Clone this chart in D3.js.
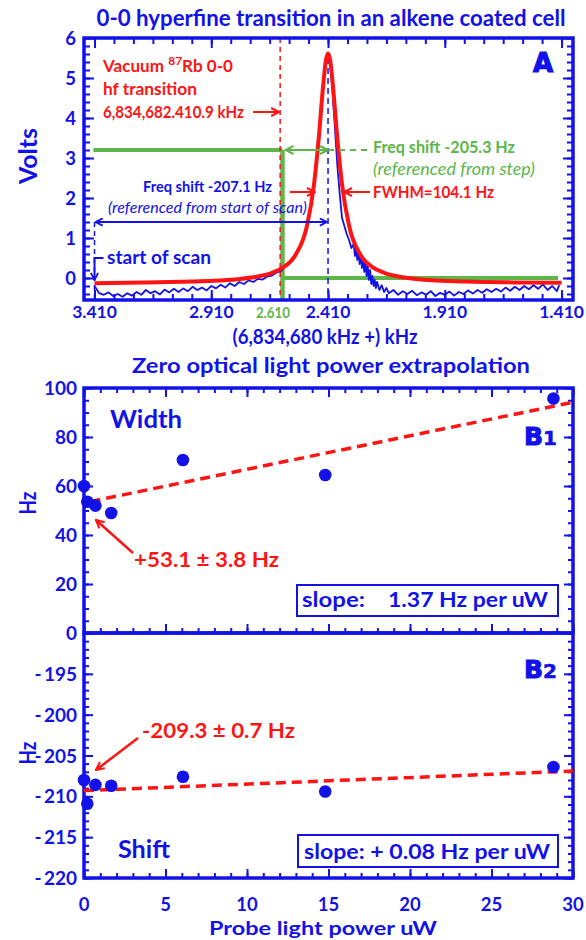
<!DOCTYPE html>
<html><head><meta charset="utf-8">
<script src="https://cdn.jsdelivr.net/npm/d3@7"></script>
<style>body{margin:0;background:#fff}svg{display:block}</style>
</head><body><svg id="c" width="586" height="940"></svg>
<script>
// ---------- DATA ----------
// Panel A: fitted Lorentzian (red), kHz offset vs Volts
const fitCurve = [[3.41,-0.13],[3.2,-0.11],[3.0,-0.09],[2.9,-0.07],[2.8,-0.03],[2.7,0.05],[2.65,0.13],[2.6,0.27],[2.55,0.57],[2.5,1.31],[2.47,2.34],[2.45,3.48],[2.43,4.87],[2.42,5.41],[2.41,5.62],[2.40,5.41],[2.39,4.87],[2.37,3.48],[2.35,2.34],[2.32,1.31],[2.27,0.57],[2.22,0.27],[2.17,0.13],[2.12,0.05],[2.02,-0.03],[1.92,-0.07],[1.82,-0.09],[1.62,-0.11],[1.41,-0.12]];
// Panel A: measured signal (blue)
const signal = [[3.41,-0.20],[3.39,-0.38],[3.37,-0.42],[3.35,-0.36],[3.33,-0.45],[3.31,-0.40],[3.29,-0.47],[3.27,-0.38],[3.25,-0.44],[3.23,-0.35],[3.21,-0.42],[3.19,-0.30],[3.17,-0.38],[3.15,-0.33],[3.13,-0.41],[3.11,-0.29],[3.09,-0.36],[3.07,-0.27],[3.05,-0.35],[3.03,-0.26],[3.01,-0.33],[2.99,-0.22],[2.97,-0.30],[2.95,-0.24],[2.93,-0.31],[2.91,-0.20],[2.89,-0.26],[2.87,-0.17],[2.85,-0.24],[2.83,-0.13],[2.81,-0.20],[2.79,-0.10],[2.77,-0.15],[2.75,-0.06],[2.73,-0.10],[2.71,-0.02],[2.69,-0.04],[2.67,0.04],[2.65,0.06],[2.63,0.14],[2.61,0.18],[2.59,0.32],[2.57,0.40],[2.55,0.58],[2.53,0.78],[2.51,1.10],[2.49,1.55],[2.47,2.30],[2.45,3.40],[2.44,4.10],[2.43,4.80],[2.42,5.35],[2.41,5.55],[2.40,5.30],[2.39,4.60],[2.38,3.70],[2.37,2.80],[2.36,2.10],[2.35,1.50],[2.34,1.30],[2.33,1.10],[2.32,0.95],[2.31,0.75],[2.30,0.85],[2.295,0.55],[2.29,0.80],[2.285,0.45],[2.28,0.70],[2.275,0.35],[2.27,0.60],[2.265,0.25],[2.26,0.50],[2.255,0.15],[2.25,0.40],[2.245,0.05],[2.24,0.30],[2.235,-0.05],[2.23,0.20],[2.225,-0.15],[2.22,0.05],[2.215,-0.20],[2.21,-0.05],[2.205,-0.25],[2.20,-0.10],[2.19,-0.30],[2.18,-0.18],[2.17,-0.35],[2.16,-0.25],[2.15,-0.38],[2.13,-0.30],[2.11,-0.42],[2.09,-0.33],[2.07,-0.40],[2.05,-0.32],[2.03,-0.43],[2.01,-0.36],[1.99,-0.42],[1.97,-0.33],[1.95,-0.45],[1.93,-0.37],[1.91,-0.42],[1.89,-0.34],[1.87,-0.44],[1.85,-0.35],[1.83,-0.40],[1.81,-0.31],[1.79,-0.39],[1.77,-0.30],[1.75,-0.37],[1.73,-0.28],[1.71,-0.35],[1.69,-0.27],[1.67,-0.34],[1.65,-0.24],[1.63,-0.32],[1.61,-0.22],[1.59,-0.30],[1.57,-0.20],[1.55,-0.28],[1.53,-0.18],[1.51,-0.27],[1.49,-0.16],[1.47,-0.30],[1.45,-0.20],[1.43,-0.33],[1.42,-0.18]];
const aXTicks = [3.41, 2.91, 2.41, 1.91, 1.41];
const aXTickLabels = ["3.410", "2.910", "2.410", "1.910", "1.410"];
const aYTicks = [0, 1, 2, 3, 4, 5, 6];
const peakKHz = 2.41, vacuumKHz = 2.615, stepKHz = 2.605, scanStartKHz = 3.41;
const stepHighV = 3.2, stepLowV = 0;

// Panel B1 (width) and B2 (shift) vs probe power
const powerUW   = [0, 0.2, 0.7, 1.67, 6.07, 14.8, 28.8];
const widthHz   = [60.0, 53.6, 52.0, 49.0, 70.6, 64.5, 95.7];
const shiftHz   = [-208.0, -210.9, -208.6, -208.7, -207.6, -209.4, -206.4];
const widthFit  = {intercept: 53.1, slope: 1.37};
const shiftFit  = {intercept: -209.3, slope: 0.08};
const bXTicks   = [0, 5, 10, 15, 20, 25, 30];
const b1YTicks  = [0, 20, 40, 60, 80, 100];
const b2YTicks  = [-220, -215, -210, -205, -200, -195];

// ---------- STYLE ----------
const BLUE = "#1212e8", RED = "#ff1414", GREEN = "#5cb64a";
const FONT = "Lato, 'Open Sans', sans-serif";
const svg = d3.select("#c");

function fitLen(t, w){ t.attr("textLength", w).attr("lengthAdjust", "spacingAndGlyphs"); return t; }
function txt(x, y, s, o = {}){
  const t = svg.append("text").attr("x", x).attr("y", y)
    .attr("fill", o.fill || BLUE).attr("font-size", o.size || 18)
    .attr("font-weight", o.weight || "bold").attr("font-family", o.family || FONT)
    .attr("text-anchor", o.anchor || "start").text(s);
  if (o.italic) t.attr("font-style", "italic");
  if (o.w) fitLen(t, o.w);
  return t;
}
function vtxt(cx, cy, s, size, w){
  const t = svg.append("text").attr("transform", `translate(${cx},${cy}) rotate(-90)`)
    .attr("text-anchor", "middle").attr("dominant-baseline", "central")
    .attr("fill", BLUE).attr("font-size", size).attr("font-weight", "bold").attr("font-family", FONT).text(s);
  if (w) fitLen(t, w);
  return t;
}
function ticks(scale, orient, pos, values, len){
  const axis = {bottom: d3.axisBottom, top: d3.axisTop, left: d3.axisLeft, right: d3.axisRight}[orient](scale)
    .tickValues(values).tickSize(-len).tickFormat("");
  const tr = (orient === "bottom" || orient === "top") ? `translate(0,${pos})` : `translate(${pos},0)`;
  const g = svg.append("g").attr("transform", tr).call(axis);
  g.select(".domain").remove();
  g.selectAll("line").attr("stroke", BLUE).attr("stroke-width", 2);
}
function frame(x, y){
  const [x0, x1] = x.range(), [y0, y1] = y.range();
  svg.append("rect").attr("x", Math.min(x0,x1)).attr("y", Math.min(y0,y1))
    .attr("width", Math.abs(x1-x0)).attr("height", Math.abs(y1-y0))
    .attr("fill", "none").attr("stroke", BLUE).attr("stroke-width", 3.5);
}
// arrow markers
const defs = svg.append("defs");
function marker(id, color, size){
  defs.append("marker").attr("id", id).attr("viewBox", "0 0 10 10").attr("refX", 9).attr("refY", 5)
    .attr("markerWidth", size).attr("markerHeight", size).attr("markerUnits", "userSpaceOnUse")
    .attr("orient", "auto-start-reverse")
    .append("path").attr("d", "M1,1 L9,5 L1,9").attr("fill", "none").attr("stroke", color).attr("stroke-width", 2);
}
marker("aRed", RED, 10); marker("aBlue", BLUE, 9); marker("aGreen", GREEN, 10);

// ---------- PANEL A ----------
const xA = d3.scaleLinear().domain([3.455, 1.361]).range([84, 573]);
const yA = d3.scaleLinear().domain([-0.55, 6]).range([300, 38]);

txt(331, 26, "0-0 hyperfine transition in an alkene coated cell", {anchor: "middle", size: 22.5, w: 469});
vtxt(27, 156, "Volts", 24, 56);

// ticks
const aXMinor = d3.range(0, 25).map(k => 3.41 - k * 0.5 / 6);
ticks(xA, "bottom", 300, aXMinor, 6); ticks(xA, "bottom", 300, aXTicks, 10);
ticks(xA, "top", 38, aXMinor, 6); ticks(xA, "top", 38, aXTicks, 10);
const aYMinor = d3.range(-2, 31).map(k => k * 0.2);
ticks(yA, "left", 84, aYMinor, 6); ticks(yA, "left", 84, aYTicks, 10);
ticks(yA, "right", 573, aYMinor, 6); ticks(yA, "right", 573, aYTicks, 10);

svg.append("g").selectAll("text").data(aYTicks).join("text")
  .attr("x", 76).attr("y", d => yA(d) + 6.5).attr("text-anchor", "end")
  .attr("fill", BLUE).attr("font-size", 18.5).attr("font-weight", "bold").attr("font-family", FONT).text(d => d);
svg.append("g").selectAll("text").data(aXTicks).join("text")
  .attr("x", d => xA(d)).attr("y", 318).attr("text-anchor", "middle")
  .attr("fill", BLUE).attr("font-size", 17.5).attr("font-weight", "bold").attr("font-family", FONT).text((d, i) => aXTickLabels[i]);
txt(273, 318, "2.610", {fill: GREEN, size: 14.5, anchor: "middle", w: 34});
txt(325, 344, "(6,834,680 kHz +) kHz", {anchor: "middle", size: 20.5, w: 185});

// green step
svg.append("path").attr("d", d3.line()([[xA(3.415), yA(stepHighV)], [xA(stepKHz), yA(stepHighV)]]))
  .attr("stroke", GREEN).attr("stroke-width", 4).attr("fill", "none");
svg.append("path").attr("d", d3.line()([[xA(stepKHz), yA(stepHighV)], [xA(stepKHz), yA(-0.55)]]))
  .attr("stroke", GREEN).attr("stroke-width", 4.5).attr("fill", "none");
svg.append("path").attr("d", d3.line()([[xA(stepKHz), yA(stepLowV)], [xA(1.425), yA(stepLowV)]]))
  .attr("stroke", GREEN).attr("stroke-width", 4).attr("fill", "none");

// dashed vertical references
svg.append("line").attr("x1", xA(vacuumKHz)).attr("x2", xA(vacuumKHz)).attr("y1", yA(6)).attr("y2", yA(-0.55))
  .attr("stroke", RED).attr("stroke-width", 1.5).attr("stroke-dasharray", "5,4");
svg.append("line").attr("x1", xA(peakKHz)).attr("x2", xA(peakKHz)).attr("y1", yA(5.5)).attr("y2", yA(-0.55))
  .attr("stroke", BLUE).attr("stroke-width", 1.5).attr("stroke-dasharray", "6,4");
svg.append("line").attr("x1", xA(scanStartKHz)).attr("x2", xA(scanStartKHz)).attr("y1", yA(1.4)).attr("y2", yA(-0.55))
  .attr("stroke", BLUE).attr("stroke-width", 1.5).attr("stroke-dasharray", "5,4");

// signal + fit
const lineA = d3.line().x(d => xA(d[0])).y(d => yA(d[1]));
svg.append("path").attr("d", lineA(signal)).attr("fill", "none").attr("stroke", BLUE).attr("stroke-width", 1.8).attr("stroke-linejoin", "round");
svg.append("path").attr("d", lineA.curve(d3.curveMonotoneX)(fitCurve)).attr("fill", "none").attr("stroke", RED).attr("stroke-width", 4).attr("stroke-linejoin", "round");

// annotations A
const vac = txt(103, 72, "Vacuum ", {fill: RED, size: 17});
vac.append("tspan").attr("dy", -7).attr("font-size", 12).text("87");
vac.append("tspan").attr("dy", 7).text("Rb 0-0");
fitLen(vac, 130);
txt(103, 95, "hf transition", {fill: RED, size: 17.5, w: 94});
txt(103, 118, "6,834,682.410.9 kHz", {fill: RED, size: 17, w: 141});
svg.append("line").attr("x1", 253).attr("x2", xA(vacuumKHz) - 1).attr("y1", yA(4.15)).attr("y2", yA(4.15))
  .attr("stroke", RED).attr("stroke-width", 2).attr("marker-end", "url(#aRed)");

// green arrow
svg.append("line").attr("x1", xA(peakKHz)).attr("x2", xA(stepKHz) + 3).attr("y1", yA(stepHighV)).attr("y2", yA(stepHighV))
  .attr("stroke", GREEN).attr("stroke-width", 2).attr("marker-end", "url(#aGreen)").attr("marker-start", "url(#aGreen)");
svg.append("line").attr("x1", xA(peakKHz)).attr("x2", 368).attr("y1", yA(stepHighV)).attr("y2", yA(stepHighV))
  .attr("stroke", GREEN).attr("stroke-width", 2).attr("stroke-dasharray", "6,5");
txt(373, 153, "Freq shift -205.3 Hz", {fill: GREEN, size: 17, w: 142});
txt(373, 175, "(referenced from step)", {fill: GREEN, size: 16.5, weight: "normal", italic: true, w: 162});

// FWHM arrows
svg.append("line").attr("x1", 290).attr("x2", 315).attr("y1", 192).attr("y2", 192)
  .attr("stroke", RED).attr("stroke-width", 2).attr("marker-end", "url(#aRed)");
svg.append("line").attr("x1", 370).attr("x2", 344).attr("y1", 192).attr("y2", 192)
  .attr("stroke", RED).attr("stroke-width", 2).attr("marker-end", "url(#aRed)");
txt(373, 198, "FWHM=104.1 Hz", {fill: RED, size: 17, w: 121});

// blue arrow
txt(143, 192, "Freq shift -207.1 Hz", {size: 15.5, w: 129});
txt(108, 213, "(referenced from start of scan)", {size: 15.5, weight: "normal", italic: true, w: 199});
svg.append("line").attr("x1", xA(scanStartKHz) + 1).attr("x2", xA(peakKHz) - 1).attr("y1", yA(1.4)).attr("y2", yA(1.4))
  .attr("stroke", BLUE).attr("stroke-width", 1.8).attr("marker-end", "url(#aBlue)").attr("marker-start", "url(#aBlue)");
svg.append("path").attr("d", `M${xA(scanStartKHz)+9},${yA(0.5)} H${xA(scanStartKHz)} V${yA(-0.05)}`)
  .attr("fill", "none").attr("stroke", BLUE).attr("stroke-width", 2).attr("marker-end", "url(#aBlue)");
txt(107, 264, "start of scan", {size: 18, w: 104});

txt(543, 72, "A", {anchor: "middle", size: 26, family: "'DejaVu Sans', sans-serif"}).attr("stroke", BLUE).attr("stroke-width", 1.2);

// ---------- PANELS B ----------
const xB = d3.scaleLinear().domain([0, 30]).range([84, 573]);
const yB1 = d3.scaleLinear().domain([0, 100]).range([633, 388]);
const yB2 = d3.scaleLinear().domain([-220, -190]).range([878, 633]);

txt(331, 373, "Zero optical light power extrapolation", {anchor: "middle", size: 21, w: 398});

const bXMinor = d3.range(0, 31);
ticks(xB, "top", 388, bXMinor, 5); ticks(xB, "top", 388, bXTicks, 9);
ticks(xB, "bottom", 633, bXMinor, 5); ticks(xB, "bottom", 633, bXTicks, 9);
ticks(xB, "bottom", 878, bXMinor, 5); ticks(xB, "bottom", 878, bXTicks, 9);
const b1Minor = d3.range(0, 101, 5);
ticks(yB1, "left", 84, b1Minor, 5); ticks(yB1, "left", 84, b1YTicks, 9);
ticks(yB1, "right", 573, b1Minor, 5); ticks(yB1, "right", 573, b1YTicks, 9);
const b2Minor = d3.range(-220, -189, 1);
ticks(yB2, "left", 84, b2Minor, 5); ticks(yB2, "left", 84, b2YTicks, 9);
ticks(yB2, "right", 573, b2Minor, 5); ticks(yB2, "right", 573, b2YTicks, 9);

svg.append("g").selectAll("text").data(b1YTicks).join("text")
  .attr("x", 77).attr("y", d => yB1(d) + 7).attr("text-anchor", "end")
  .attr("fill", BLUE).attr("font-size", 19).attr("font-weight", "bold").attr("font-family", FONT).text(d => d);
svg.append("g").selectAll("text").data(b2YTicks).join("text")
  .attr("x", 77).attr("y", d => yB2(d) + 7).attr("text-anchor", "end")
  .attr("fill", BLUE).attr("font-size", 19).attr("font-weight", "bold").attr("font-family", FONT).text(d => "-\u2009" + Math.abs(d));
svg.append("g").selectAll("text").data(bXTicks).join("text")
  .attr("x", d => xB(d)).attr("y", 911).attr("text-anchor", "middle")
  .attr("fill", BLUE).attr("font-size", 18.5).attr("font-weight", "bold").attr("font-family", FONT).text(d => d);
txt(323, 934.5, "Probe light power uW", {anchor: "middle", size: 19, w: 228});
vtxt(27, 503, "Hz", 23, 23);
vtxt(27, 753, "Hz", 23, 23);

frame(xA, yA); frame(xB, yB1); frame(xB, yB2);

// fit lines
svg.append("line").attr("x1", xB(0.4)).attr("y1", yB1(widthFit.intercept + widthFit.slope * 0.4))
  .attr("x2", xB(30)).attr("y2", yB1(widthFit.intercept + widthFit.slope * 30))
  .attr("stroke", RED).attr("stroke-width", 3.5).attr("stroke-dasharray", "10,6");
svg.append("line").attr("x1", xB(0)).attr("y1", yB2(shiftFit.intercept))
  .attr("x2", xB(30)).attr("y2", yB2(shiftFit.intercept + shiftFit.slope * 30))
  .attr("stroke", RED).attr("stroke-width", 3.5).attr("stroke-dasharray", "10,6");

// points
svg.append("g").selectAll("circle").data(powerUW).join("circle")
  .attr("cx", d => xB(d)).attr("cy", (d, i) => yB1(widthHz[i])).attr("r", 6.3).attr("fill", BLUE);
svg.append("g").selectAll("circle").data(powerUW).join("circle")
  .attr("cx", d => xB(d)).attr("cy", (d, i) => yB2(shiftHz[i])).attr("r", 6.3).attr("fill", BLUE);

// B1 annotations
txt(110, 428, "Width", {size: 24, w: 72});
const b1 = txt(524, 445, "B", {size: 25, family: "'DejaVu Sans', sans-serif"}).attr("stroke", BLUE).attr("stroke-width", 1.1);
b1.append("tspan").attr("font-size", 20).attr("stroke-width", 0.6).text("1");
svg.append("line").attr("x1", 133).attr("y1", 553).attr("x2", 96).attr("y2", 520)
  .attr("stroke", RED).attr("stroke-width", 2.5).attr("marker-end", "url(#aRed)");
txt(134, 567, "+53.1 \u00B1 3.8 Hz", {fill: RED, size: 20, w: 145});
svg.append("rect").attr("x", 297).attr("y", 585).attr("width", 261).attr("height", 31)
  .attr("fill", "#fff").attr("stroke", BLUE).attr("stroke-width", 2);
txt(302, 607, "slope:", {size: 20, w: 63});
txt(388, 607, "1.37 Hz per uW", {size: 20, w: 160});

// B2 annotations
const b2 = txt(524, 678, "B", {size: 25, family: "'DejaVu Sans', sans-serif"}).attr("stroke", BLUE).attr("stroke-width", 1.1);
b2.append("tspan").attr("font-size", 20).attr("stroke-width", 0.6).text("2");
svg.append("line").attr("x1", 138).attr("y1", 738).attr("x2", 96).attr("y2", 770)
  .attr("stroke", RED).attr("stroke-width", 2.5).attr("marker-end", "url(#aRed)");
txt(142, 738, "-209.3 \u00B1 0.7 Hz", {fill: RED, size: 20, w: 153});
txt(118, 858, "Shift", {size: 25, w: 52});
svg.append("rect").attr("x", 298).attr("y", 835).attr("width", 260).attr("height", 32)
  .attr("fill", "#fff").attr("stroke", BLUE).attr("stroke-width", 2);
txt(304, 859, "slope: + 0.08 Hz per uW", {size: 20, w: 246});
</script></body></html>
